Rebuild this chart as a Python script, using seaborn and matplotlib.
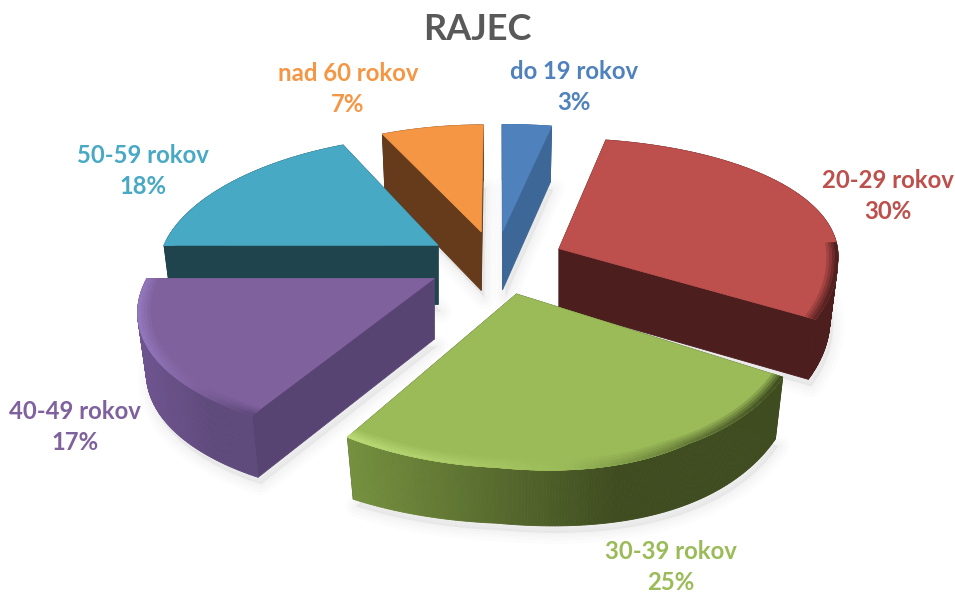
import numpy as np
import matplotlib
matplotlib.use("Agg")
import matplotlib.pyplot as plt
from matplotlib.patches import Polygon
import seaborn as sns

# ---- data ----
categories = ["do 19 rokov", "20-29 rokov", "30-39 rokov", "40-49 rokov", "50-59 rokov", "nad 60 rokov"]
percent = [3, 30, 25, 17, 18, 7]

# ---- styles ----
top_colors = ["#4f81bd", "#bd4f4c", "#9bbb59", "#7f619d", "#48a9c5", "#f59644"]
cut_colors = ["#3d6796", "#4d1e1e", "#3f4c20", "#584472", "#1f444e", "#653b1b"]
wall_left = ["#3d6796", "#4d1e1e", "#76913f", "#6f5590", "#1f444e", "#653b1b"]
wall_right = ["#3d6796", "#4d1e1e", "#3f4c20", "#5f4a7c", "#1f444e", "#653b1b"]
rim_colors = ["#4f81bd", "#bd4f4c", "#b9d977", "#9478bd", "#48a9c5", "#f59644"]
draw_order = [5, 0, 4, 1, 3, 2]
label_xy = [(574, 87), (888, 196), (671, 567), (75, 427), (143, 171), (348, 89)]

CX, CY, R, Q = 496, 262, 280, 0.4525
KX_BACK_L, KX_BACK_R, KX_FRONT, KY_BACK, KY_FRONT = 0.16, 0.05, 0.20, 0.12, 0.17
EXPLODE, THICK, FOOT = 0.25, 60, 0.972
WARP_X, WARP_Y, BULGE = 0.10, 16, 50

sns.set_theme(style="white")
plt.rcParams["font.family"] = ["Lato", "DejaVu Sans"]


def project(x, y, drop=0.0):
    """Ground-plane coordinates (unit radius) to figure pixels, with perspective."""
    x, y = np.asarray(x, float), np.asarray(y, float)
    warp = np.clip(x, 0, None) * np.clip(-y, 0, None)
    kx = np.where(y > 0, np.where(x > 0, KX_BACK_R, KX_BACK_L), KX_FRONT)
    ky = np.where(y > 0, KY_BACK, KY_FRONT)
    sx = CX + R * x / (1 + kx * y + WARP_X * warp)
    sy = CY - R * Q * y / (1 + ky * y) + WARP_Y * warp + drop / (1 + 0.1 * y)
    if drop == 0:
        sy = sy + BULGE * np.clip(-y - 1.1, 0, None)
    return np.column_stack([sx, sy])


def ring(ox, oy, a, radius=1.0):
    return ox + radius * np.sin(a), oy + radius * np.cos(a)


fig, ax = plt.subplots(figsize=(9.55, 5.93), dpi=100)
ax.set_position([0, 0, 1, 1])
ax.set_xlim(0, 955)
ax.set_ylim(593, 0)
ax.axis("off")

edges = np.cumsum([0] + percent) / sum(percent) * 2 * np.pi
slices = []
for i in range(len(percent)):
    a0, a1 = edges[i], edges[i + 1]
    mid = (a0 + a1) / 2
    ox, oy = EXPLODE * np.sin(mid), EXPLODE * np.cos(mid)
    th = np.linspace(a0, a1, max(int(2 * np.degrees(a1 - a0)), 8))
    slices.append((ox, oy, th))

# soft shadows under the slices
for ox, oy, th in slices:
    xr, yr = ring(ox, oy, th, FOOT)
    pts = project(np.r_[ox, xr], np.r_[oy, yr], THICK) + np.array([3, 7])
    for lw in (16, 11, 7, 3):
        ax.add_patch(Polygon(pts, closed=True, fc="#000000", ec="#000000", lw=lw,
                             alpha=0.012, joinstyle="round", zorder=1))

for z, i in enumerate(draw_order):
    ox, oy, th = slices[i]
    zo = 2 + z
    faces = []
    for a in (th[0], th[-1]):
        ex, ey = ring(ox, oy, a)
        fx, fy = ring(ox, oy, a, FOOT)
        poly = np.vstack([project([ox, ex], [oy, ey]),
                          project([fx, ox], [fy, oy], THICK)])
        faces.append(((oy + ey) / 2, poly, cut_colors[i]))
    # outer wall as narrow strips, shaded left to right
    xr, yr = ring(ox, oy, th)
    xf, yf = ring(ox, oy, th, FOOT)
    top_edge = project(xr, yr)
    low_edge = project(xf, yf, THICK)
    span = (top_edge[:, 0] - top_edge[:, 0].min()) / max(np.ptp(top_edge[:, 0]), 1)
    wall_span = np.clip(span / 0.62, 0, 1)
    shades = sns.blend_palette([wall_left[i], wall_right[i]], 64)
    for k in range(len(th) - 1):
        poly = np.vstack([top_edge[k:k + 2], low_edge[k:k + 2][::-1]])
        c = shades[int(wall_span[k] * 63)]
        faces.append((yr[k], poly, c))
    for _, poly, c in sorted(faces, key=lambda f: -f[0]):
        ax.add_patch(Polygon(poly, closed=True, fc=c, ec=c, lw=0.6, zorder=zo))
    # top face
    top = project(np.r_[ox, xr], np.r_[oy, yr])
    ax.add_patch(Polygon(top, closed=True, fc=top_colors[i], ec=top_colors[i], lw=0.5, zorder=zo))
    # bevel along the visible front rim: highlight on the left, shade on the right
    front = np.where(np.cos(th) < 0.05)[0]
    if len(front) < 2:
        continue
    rim_ramp = sns.blend_palette([rim_colors[i], top_colors[i], wall_right[i]], 64)
    for j, inner in enumerate((0.96, 0.97, 0.98, 0.99)):
        weight = (j + 1) / 4
        for k in front[:-1]:
            pair = th[k:k + 2]
            xi, yi = ring(ox, oy, pair, inner)
            xo, yo = ring(ox, oy, pair)
            poly = np.vstack([project(xi, yi), project(xo, yo)[::-1]])
            c = np.array(rim_ramp[int(span[k] * 63)])
            c = weight * c + (1 - weight) * np.array(matplotlib.colors.to_rgb(top_colors[i]))
            ax.add_patch(Polygon(poly, closed=True, fc=c, ec=c, lw=0.3, zorder=zo))

for name, p, (x, y), c in zip(categories, percent, label_xy, top_colors):
    ax.text(x, y, f"{name}\n{p}%", color=c, ha="center", va="center", fontsize=17.2,
            fontweight="bold", linespacing=1.4, zorder=20)

ax.set_title("RAJEC", y=1 - 29 / 593, pad=0, va="center", fontsize=26, fontweight="bold", color="#595959")
fig.savefig("out.png", dpi=100)
